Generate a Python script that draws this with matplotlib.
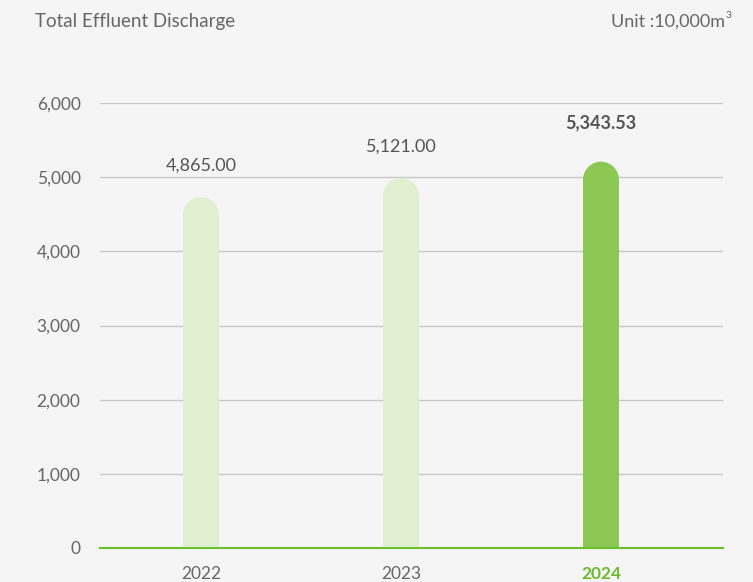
import matplotlib.pyplot as plt
from matplotlib.patches import Ellipse, Rectangle

years = ['2022', '2023', '2024']
values = [4865.00, 5121.00, 5343.53]
labels = ['4,865.00', '5,121.00', '5,343.53']
yticks = [0, 1000, 2000, 3000, 4000, 5000, 6000]
ytick_labels = ['0', '1,000', '2,000', '3,000', '4,000', '5,000', '6,000']

bg = '#f5f5f5'
light = '#dfefd0'
strong = '#8dc855'
green_txt = '#6cb834'
grey_txt = '#666666'

plt.rcParams['font.family'] = ['Lato', 'DejaVu Sans']

W, H = 753, 582
fig = plt.figure(figsize=(W / 100, H / 100), dpi=100, facecolor=bg)
ax = fig.add_axes([100 / W, (H - 548) / H, (723 - 100) / W, (548 - 103) / H])
ax.set_facecolor(bg)

ax.set_xlim(-0.505, 2.61)
ax.set_ylim(0, 6000)

# pixel -> data helpers
px_x = (2.61 + 0.505) / (723 - 100)
px_y = 6000 / (548 - 103)
bw = 36 * px_x
cap_h = 36 * px_y
shift = 10 * px_y

for i, (v, lab) in enumerate(zip(values, labels)):
    last = i == len(values) - 1
    col = strong if last else light
    top = v - shift
    ctr = top - cap_h / 2
    ax.add_patch(Rectangle((i - bw / 2, 0), bw, ctr, color=col, lw=0, zorder=3))
    ax.add_patch(Ellipse((i, ctr), bw, cap_h, color=col, lw=0, zorder=3))
    off = 29 if last else 22
    ax.text(i, v + off * px_y, lab, ha='center', va='center', fontsize=13,
            color='#555555', fontweight='bold' if last else 'normal', zorder=4)

ax.set_yticks(yticks)
ax.set_yticklabels(ytick_labels)
ax.grid(axis='y', color='#c8c8c8', lw=1, zorder=1)
for sp in ['top', 'right', 'left']:
    ax.spines[sp].set_visible(False)
ax.spines['bottom'].set_color('#6cc02c')
ax.spines['bottom'].set_linewidth(1.5)
ax.spines['bottom'].set_zorder(5)
ax.tick_params(axis='y', length=0, pad=14, labelsize=12.5, labelcolor=grey_txt)
ax.tick_params(axis='x', length=0, pad=13, labelsize=12.5, labelcolor=grey_txt)
ax.set_xticks(range(len(years)))
ax.set_xticklabels(years)
lastlab = ax.get_xticklabels()[-1]
lastlab.set_color(green_txt)
lastlab.set_fontweight('bold')

fig.text(35 / W, 1 - 22 / H, 'Total Effluent Discharge', ha='left', va='center',
         fontsize=13.5, color=grey_txt)
fig.text(725 / W, 1 - 22 / H, 'Unit :10,000m', ha='right', va='center',
         fontsize=13, color=grey_txt)
fig.text(726 / W, 1 - 15 / H, '3', ha='left', va='center',
         fontsize=7.5, color=grey_txt)

fig.savefig('out.png', dpi=100, facecolor=bg)
